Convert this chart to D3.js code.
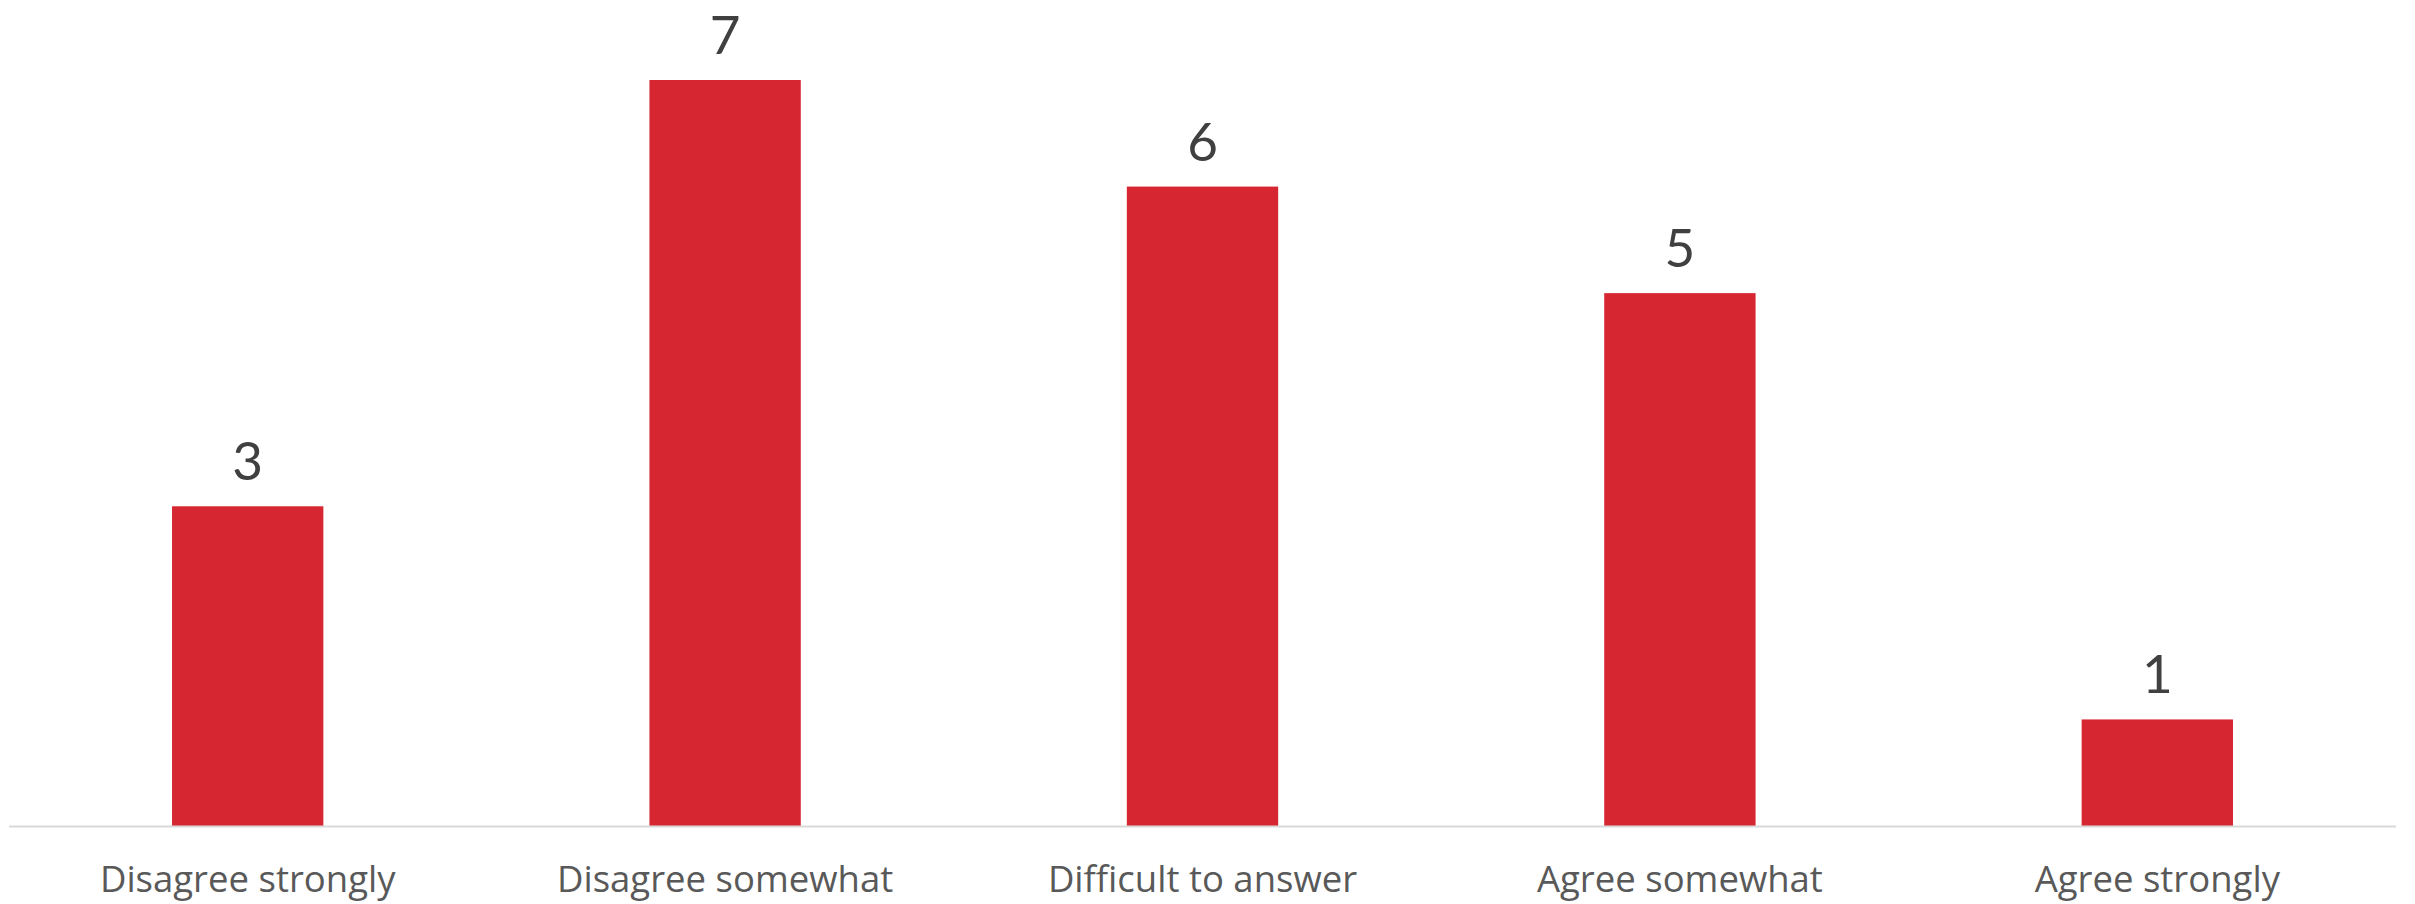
<!DOCTYPE html>
<html><head><meta charset="utf-8">
<script src="https://cdn.jsdelivr.net/npm/d3@7"></script>
<style>html,body{margin:0;padding:0;background:#fff;}</style>
</head><body>
<svg id="chart" width="2415" height="904"></svg>
<script>
const categories = ["Disagree strongly", "Disagree somewhat", "Difficult to answer", "Agree somewhat", "Agree strongly"];
const values = [3, 7, 6, 5, 1];

const svg = d3.select("#chart");
const x = d3.scaleBand().domain(categories).range([9, 2396]).paddingInner(0.683).paddingOuter(0.3415);
const y = d3.scaleLinear().domain([0, 7]).range([826, 80]);

svg.selectAll("rect.bar").data(values).join("rect")
  .attr("class", "bar")
  .attr("x", (d, i) => x(categories[i]))
  .attr("y", d => y(d))
  .attr("width", x.bandwidth())
  .attr("height", d => y(0) - y(d))
  .attr("fill", "#d52631");

svg.append("line").attr("x1", 9).attr("x2", 2396).attr("y1", 826.5).attr("y2", 826.5)
  .attr("stroke", "#d9d9d9").attr("stroke-width", 2);

svg.selectAll("text.val").data(values).join("text")
  .attr("class", "val")
  .attr("x", (d, i) => x(categories[i]) + x.bandwidth() / 2)
  .attr("y", d => y(d) - 26)
  .attr("text-anchor", "middle")
  .attr("font-family", "Lato, 'Open Sans', sans-serif")
  .attr("font-size", 53)
  .attr("fill", "#404040")
  .text(d => d);

svg.selectAll("text.cat").data(categories).join("text")
  .attr("class", "cat")
  .attr("x", d => x(d) + x.bandwidth() / 2)
  .attr("y", 891.5)
  .attr("text-anchor", "middle")
  .attr("font-family", "'Open Sans', sans-serif")
  .attr("font-size", 36.5)
  .attr("fill", "#595959")
  .text(d => d);
</script>
</body></html>
